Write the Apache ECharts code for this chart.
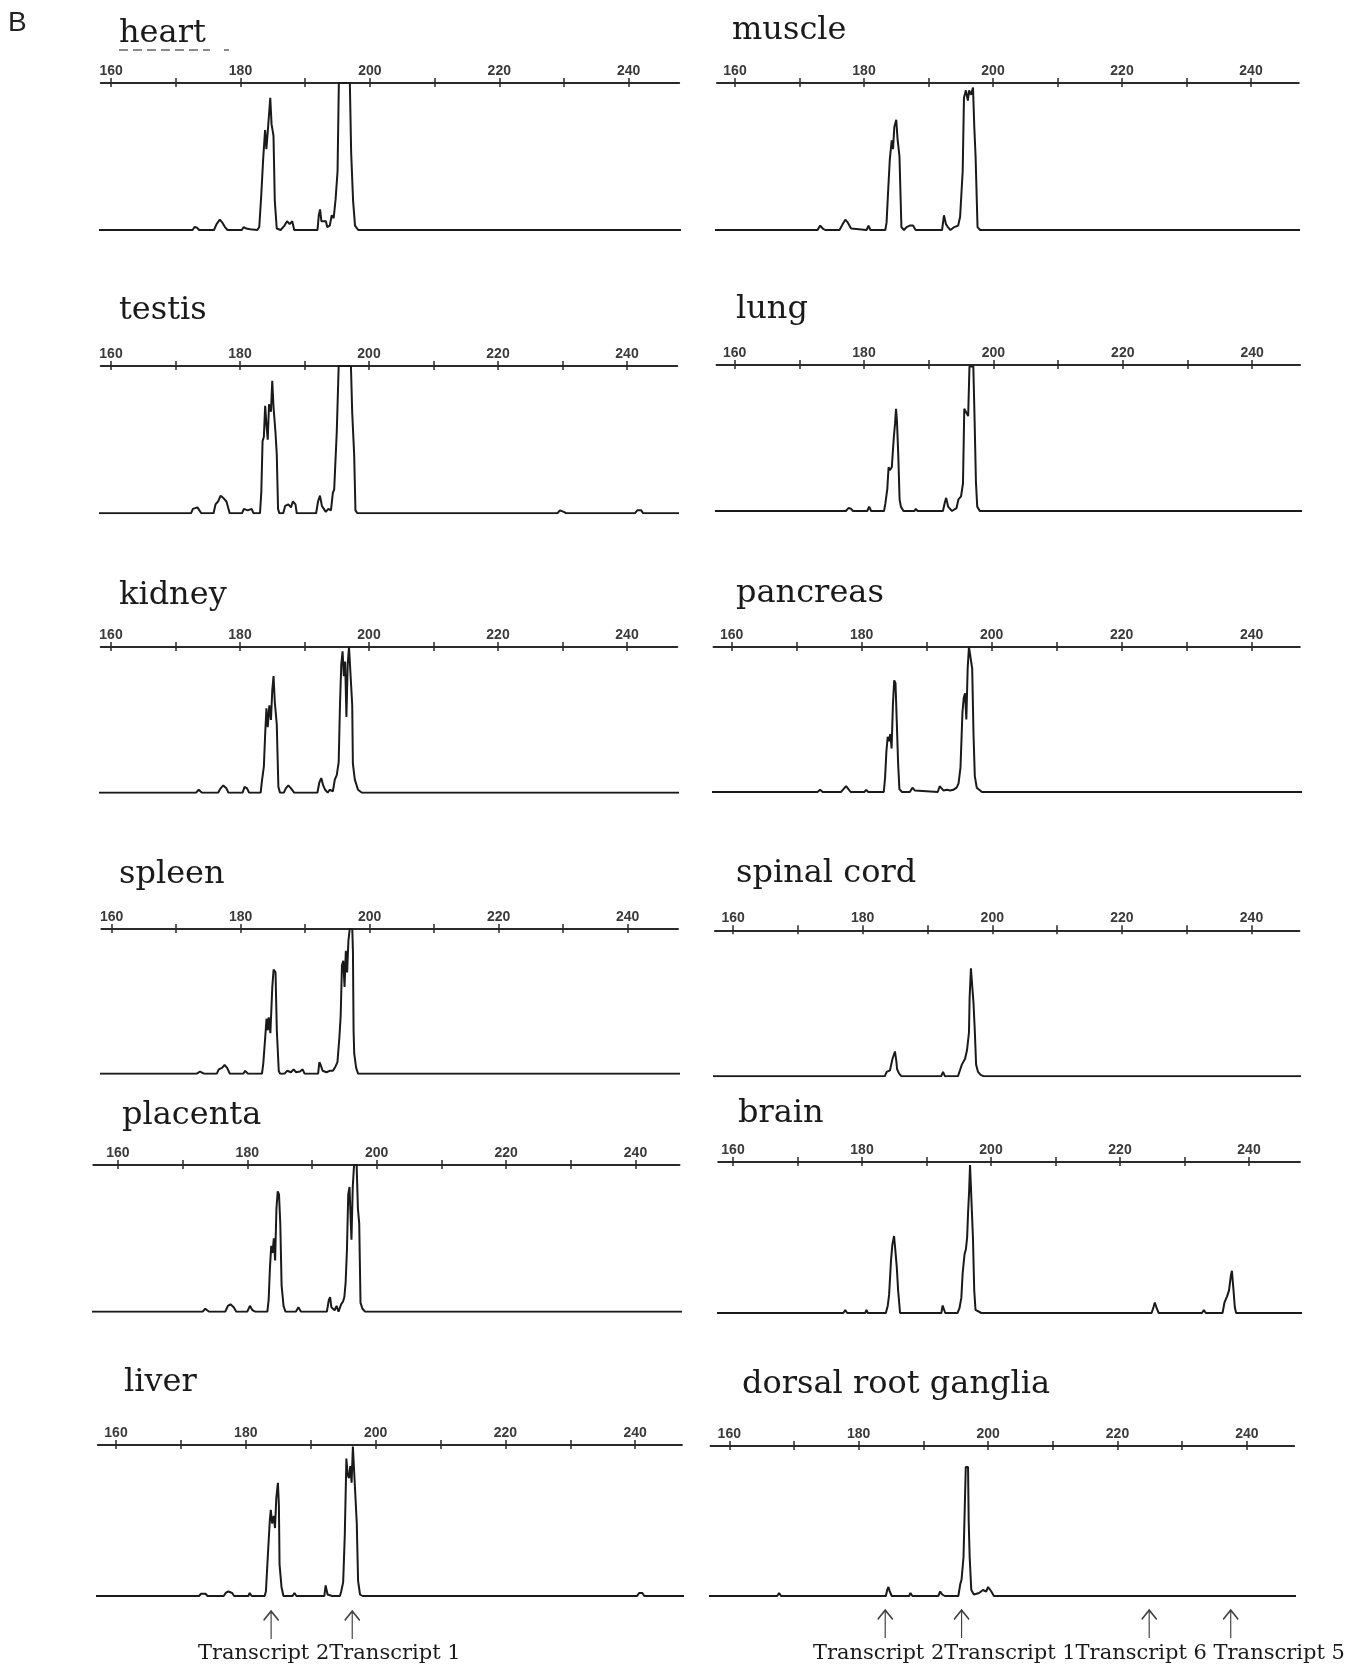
<!DOCTYPE html>
<html><head><meta charset="utf-8">
<script src="https://cdn.jsdelivr.net/npm/echarts@6/dist/echarts.min.js"></script>
<style>html,body{margin:0;padding:0;background:#fff}#c{width:1362px;height:1668px}</style>
</head><body><div id="c"></div>
<script>
// ---------- DATA ----------
const tickValues = [160,170,180,190,200,210,220,230,240];
const labelValues = [160,180,200,220,240];
const panelNames = ['heart','muscle','testis','lung','kidney','pancreas','spleen','spinal cord','placenta','brain','liver','dorsal root ganglia'];

// fragment size (bp) vs relative signal (% of full scale)
const heart = [[150,0],[172.6,0],[172.9,2],[173.3,1.5],[173.6,0],[175.9,0],[176.3,4],[176.8,7],[177.2,5],[177.6,2],[178,0],
 [180.2,0],[180.5,2],[180.9,1],[181.5,0.5],[182.6,0],[182.9,2],[183.2,23],[183.5,48],[183.8,68],[184.0,55],[184.3,72],[184.6,90],[184.8,72],[185.1,64],[185.3,20],[185.6,1],[186.2,0],
 [186.8,3],[187.2,6],[187.6,4],[188,6],[188.3,0],[191.9,0],[192.1,10],[192.3,14],[192.5,6],[192.8,5],[193.2,6],[193.4,2],[193.8,3],[194.1,10],[194.4,8],[194.7,21],[195.0,40],
 [195.2,100],[195.6,100],[196.0,100],[196.5,100],[196.9,100],[197.1,53],[197.4,20],[197.7,3],[198.2,0],[250,0]];
const muscle = [[150,0],[172.8,0],[173.2,3],[173.6,1],[174,0],[176.2,0],[176.7,4],[177.1,7],[177.5,5],[178,1],[178.3,0],[180.4,0],[180.7,3],[181,0],
 [183.3,0],[183.5,5],[183.7,23],[184.0,48],[184.3,61],[184.5,55],[184.7,70],[185.0,75],[185.2,62],[185.5,50],[185.8,2],[186.2,0],
 [186.6,2],[187.1,3],[187.6,3],[188,0],[192.1,0],[192.4,10],[192.7,4],[193.0,2],[193.4,0],[194.0,2],[194.3,3],[194.6,3],[194.9,9],[195.3,40],[195.5,90],[195.8,95],[196.1,88],[196.3,95],[196.6,92],[196.9,97],[197.1,70],[197.3,50],[197.6,2],[198,0],[250,0]];
const testis = [[150,0],[172.4,0],[172.7,3],[173.4,4],[174,0],[175.9,0],[176.2,6],[176.6,8],[177.0,12],[177.5,10],[177.9,8],[178.4,0],[180.3,0],[180.6,3],[181.2,2],[181.8,3],[182.1,0],
 [183.1,0],[183.3,14],[183.5,49],[183.7,52],[183.9,73],[184.1,60],[184.3,50],[184.5,74],[184.8,69],[185.0,90],[185.2,72],[185.5,55],[185.7,40],[185.9,3],[186.1,0],
 [186.7,0],[187.0,5],[187.5,6],[187.9,4],[188.2,8],[188.6,6],[188.8,0],[191.8,0],[192.1,8],[192.4,12],[192.7,5],[193.0,3],[193.3,1],[193.7,3],[194.1,2],[194.4,14],[194.6,16],[195.0,55],
 [195.3,100],[195.7,100],[196.2,100],[196.7,100],[197.2,100],[197.4,68],[197.7,40],[197.9,2],[198.2,0],[229.2,0],[229.6,2],[230.2,1],[230.6,0],[241.2,0],[241.6,2],[242.2,2],[242.5,0],[250,0]];
const lung = [[150,0],[177.2,0],[177.6,2],[178.0,1.5],[178.3,0],[180.5,0],[180.8,3],[181.1,0],
 [183.1,0],[183.3,5],[183.6,15],[183.8,30],[184.0,28],[184.3,30],[184.6,50],[184.8,60],[184.95,70],[185.1,61],[185.3,38],[185.5,8],[185.7,3],[186.1,0],
 [187.8,0],[188.0,1.5],[188.3,0],[192.2,0],[192.5,6],[192.7,9],[193.0,3],[193.3,1.5],[193.6,0],[194.3,2],[194.6,8],[195.0,10],[195.3,19],[195.5,70],[195.8,71],[196.1,65],[196.3,99],[196.6,100],[196.9,99],[197.1,61],[197.3,20],[197.5,3],[197.9,0],[250,0]];
const kidney = [[150,0],[173.2,0],[173.6,2],[174.1,0],[176.6,0],[177.0,3],[177.4,5],[177.9,3],[178.2,0],[180.4,0],[180.7,4],[181.1,3],[181.4,0],
 [183.2,0],[183.4,8],[183.7,18],[183.9,40],[184.1,58],[184.3,45],[184.55,60],[184.8,50],[185.0,70],[185.2,80],[185.4,62],[185.7,47],[185.95,4],[186.2,0],
 [186.8,0],[187.1,3],[187.5,5],[187.9,3],[188.4,0],[192.0,0],[192.3,7],[192.6,10],[192.9,5],[193.2,2],[193.6,0],[193.9,2],[194.4,1],[194.7,9],[195.0,12],[195.3,21],[195.5,60],[195.7,88],[195.9,97],[196.1,80],[196.3,90],[196.5,52],[196.7,88],[196.9,100],[197.2,100],[197.4,60],[197.5,20],[197.8,9],[198.3,2],[198.9,0],[250,0]];
const pancreas = [[150,0],[173.2,0],[173.6,1.5],[174.0,0],[176.8,0],[177.2,2],[177.6,4],[177.9,3],[178.3,0],[180.4,0],[180.7,1.5],[181.0,0],
 [183.4,0],[183.6,10],[183.8,28],[184.0,38],[184.2,35],[184.4,40],[184.6,30],[184.8,60],[185.0,77],[185.2,75],[185.4,48],[185.6,20],[185.8,2],[186.2,0],
 [187.4,0],[187.8,3],[188.2,1],[188.5,0],[191.7,0],[192.0,4],[192.3,5],[192.6,1],[193.1,1.5],[193.6,1],[194.1,1.5],[194.6,3],[194.9,6],[195.2,17],[195.5,55],[195.7,65],[195.9,68],[196.1,50],[196.3,85],[196.5,100],[196.8,100],[197.0,85],[197.2,40],[197.4,11],[197.7,3],[198.5,0],[241.0,0],[241.3,1.2],[241.7,0],[250,0]];
const spleen = [[150,0],[173.2,0],[173.7,1.5],[174.3,0],[176.3,0],[176.6,3],[177.1,4],[177.5,6],[177.9,4],[178.3,0],[180.4,0],[180.7,2],[181.1,0],
 [183.3,0],[183.5,7],[183.8,25],[184.0,38],[184.2,30],[184.35,39],[184.6,28],[184.9,60],[185.1,72],[185.4,70],[185.6,30],[185.9,2],[186.1,0],
 [186.8,0],[187.2,2],[187.8,1],[188.2,3],[188.6,1],[189.2,1.5],[189.6,3],[189.9,0],[192.0,0],[192.2,8],[192.4,6],[192.7,2],[193.3,1],[193.8,2],[194.3,2],[194.7,5],[195.0,8],[195.3,25],[195.5,40],[195.7,75],[195.9,78],[196.1,60],[196.3,85],[196.5,70],[196.7,92],[196.9,100],[197.3,100],[197.4,85],[197.5,30],[197.6,14],[197.9,4],[198.2,0],[250,0]];
const spinalCord = [[150,0],[183.4,0],[183.7,3],[184.2,4],[184.6,12],[184.98,17],[185.2,10],[185.3,5],[185.6,2],[186.0,0],[192.1,0],[192.4,3],[192.7,0],
 [194.7,0],[195.0,4],[195.3,8],[195.8,12],[196.1,18],[196.4,30],[196.5,54],[196.7,74],[197.0,74],[197.1,50],[197.3,31],[197.5,8],[197.8,3],[198.2,1],[198.7,0],[250,0]];
const placenta = [[150,0],[173.1,0],[173.5,2],[174.1,0],[176.6,0],[177.0,4],[177.4,5],[177.9,3],[178.3,0],[180.0,0],[180.4,4],[180.8,1],[181.2,0],
 [183.1,0],[183.3,8],[183.5,30],[183.7,45],[183.9,40],[184.1,50],[184.3,35],[184.5,70],[184.7,82],[184.9,80],[185.1,60],[185.3,18],[185.6,4],[185.9,0],
 [187.5,0],[187.9,3],[188.3,0],[192.3,0],[192.6,8],[192.8,10],[193.0,3],[193.5,1],[193.8,4],[194.1,0],[194.5,5],[194.8,7],[195.0,10],[195.2,20],[195.4,42],[195.6,80],[195.8,85],[196.0,60],[196.1,49],[196.3,85],[196.5,100],[196.9,100],[197.1,70],[197.3,60],[197.5,6],[197.8,2],[198.2,0],[250,0]];
const brain = [[150,0],[177.1,0],[177.4,2],[177.7,0],[180.5,0],[180.7,2],[180.9,0],
 [183.7,0],[184.0,5],[184.2,12],[184.5,35],[184.7,45],[184.97,51],[185.2,40],[185.4,30],[185.6,15],[185.9,0],
 [192.3,0],[192.5,5],[192.7,6],[192.9,0],[194.8,0],[195.1,3],[195.4,10],[195.6,26],[195.9,39],[196.1,42],[196.3,50],[196.45,67],[196.6,80],[196.75,98],[197.0,97],[197.2,50],[197.4,15],[197.6,2],[198.5,0],
 [224.9,0],[225.2,4],[225.4,7],[225.7,3],[226.0,0],[232.7,0],[233.0,2],[233.3,0],[235.9,0],[236.2,7],[236.6,11],[236.9,15],[237.2,25],[237.35,28],[237.6,15],[237.8,4],[238.0,0],[250,0]];
const liver = [[150,0],[172.8,0],[173.1,1.5],[173.8,1.5],[174.1,0],[176.6,0],[176.9,2],[177.3,3],[177.9,2],[178.2,0],[180.4,0],[180.6,2],[180.9,0],
 [182.9,0],[183.1,3],[183.4,27],[183.7,50],[183.85,57],[184.05,48],[184.3,53],[184.5,45],[184.7,65],[184.95,75],[185.1,60],[185.2,21],[185.5,6],[185.8,0],
 [187.2,0],[187.5,2],[187.8,0],[192.1,0],[192.3,7],[192.5,7],[192.6,1],[193.3,0],[194.5,0],[194.7,3],[195.0,9],[195.25,40],[195.5,91],[195.7,80],[195.9,78],[196.1,86],[196.3,75],[196.5,99],[196.8,99],[197.1,48],[197.3,10],[197.6,1],[198,0],
 [229.4,0],[229.7,1],[230.0,0],[240.3,0],[240.6,2],[241.1,2],[241.4,0],[250,0]];
const dorsalRootGanglia = [[150,0],[167.4,0],[167.7,2],[168.0,0],[184.2,0],[184.4,4],[184.6,6],[184.8,3],[185.1,0],[187.8,0],[188.0,2],[188.3,0],
 [192.3,0],[192.6,3],[192.9,1],[193.3,0],[195.4,0],[195.7,8],[195.9,11],[196.2,26],[196.4,60],[196.55,86],[196.9,86],[197.0,50],[197.15,26],[197.4,4],[197.8,1],[198.6,2],[199.2,4],[199.7,3],[200.0,6],[200.2,7],[200.5,3],[200.9,0],[250,0]];

const traces = [heart, muscle, testis, lung, kidney, pancreas, spleen, spinalCord, placenta, brain, liver, dorsalRootGanglia];

const transcriptsLeft = [183.9, 196.4];
const transcriptsRight = [184.1, 195.9, 224.9, 237.5];
const transcriptTextLeft = 'Transcript 2Transcript 1';
const transcriptTextRight = 'Transcript 2Transcript 1Transcript 6 Transcript 5';

// ---------- LAYOUT (pixels) ----------
const layout = [
 {x180:240.5,ppu:6.47,top:83,base:230,min:158.4,max:247.8,tx:119,ty:41},
 {x180:864,ppu:6.45,top:83,base:230,min:157.2,max:247.4,tx:732,ty:38},
 {x180:240,ppu:6.45,top:366,base:513.3,min:158.4,max:247.8,tx:119,ty:318},
 {x180:864,ppu:6.47,top:365,base:511,min:157.2,max:247.4,tx:736,ty:317},
 {x180:240,ppu:6.45,top:647,base:792.7,min:158.4,max:247.8,tx:119,ty:603},
 {x180:861.7,ppu:6.5,top:647,base:792,min:157.2,max:247.4,tx:736,ty:601},
 {x180:240.7,ppu:6.45,top:929,base:1073.7,min:158.4,max:247.8,tx:119,ty:882},
 {x180:862.7,ppu:6.48,top:930.3,base:1076.3,min:157.2,max:247.4,tx:736,ty:881},
 {x180:247.3,ppu:6.47,top:1165,base:1311.7,min:156.2,max:246.8,tx:122,ty:1123},
 {x180:862,ppu:6.45,top:1162,base:1313,min:157.7,max:247.9,tx:738,ty:1121},
 {x180:245.8,ppu:6.49,top:1445,base:1596,min:157.2,max:247.2,tx:124,ty:1390},
 {x180:858.7,ppu:6.47,top:1446,base:1596,min:157.1,max:247.3,tx:742,ty:1392}
];

const INK = '#1a1a1a';
const grid = [], xAxis = [], yAxis = [], series = [], graphic = [];

layout.forEach((L, i) => {
  grid.push({left: L.x180 - (180 - L.min) * L.ppu, width: (L.max - L.min) * L.ppu, top: L.top, height: L.base - L.top, containLabel:false});
  xAxis.push({gridIndex:i, type:'value', position:'top', min:L.min, max:L.max,
    axisLine:{show:true, onZero:false, lineStyle:{color:'#2a2a2a', width:2}},
    axisTick:{show:true, customValues:tickValues, length:5, lineStyle:{color:'#2a2a2a', width:1.5}},
    axisLabel:{show:true, customValues:labelValues, margin:5, fontFamily:'Liberation Sans', fontWeight:'bold', fontSize:14, color:'#3a3a3a'},
    splitLine:{show:false}});
  xAxis.push({gridIndex:i, type:'value', position:'top', min:L.min, max:L.max,
    axisLine:{show:false, onZero:false},
    axisTick:{show:true, inside:true, customValues:tickValues, length:4, lineStyle:{color:'#2a2a2a', width:1.5}},
    axisLabel:{show:false}, splitLine:{show:false}});
  yAxis.push({gridIndex:i, type:'value', min:0, max:100, show:false});
  series.push({type:'line', xAxisIndex:2*i, yAxisIndex:i, data:traces[i], symbol:'none', showSymbol:false,
    lineStyle:{color:INK, width:2}, silent:true, animation:false});
  graphic.push({type:'text', left:L.tx, top:L.ty - 23, style:{text:panelNames[i], font:'32px "DejaVu Serif"', fill:'#1a1a1a'}});
});

const arrowPath = 'path://M0,10 L8,0 L16,10 M8,0 L8,30';
function arrows(idx, xs, offset) {
  return {type:'scatter', xAxisIndex:2*idx, yAxisIndex:idx, clip:false, silent:true, animation:false,
    data: xs.map(v => [v, 0]), symbol: arrowPath, symbolSize:[15, 28], symbolOffset:[0, offset],
    itemStyle:{color:'rgba(0,0,0,0)', borderColor:'#111', borderWidth:1.6}};
}
series.push(arrows(10, transcriptsLeft, 29));
series.push(arrows(11, transcriptsRight, 28));

graphic.push({type:'text', left:8, top:9, style:{text:'B', font:'28px "Liberation Sans"', fill:'#222'}});
graphic.push({type:'line', shape:{x1:119, y1:50, x2:210, y2:50}, style:{stroke:'#666', lineWidth:1.5, lineDash:[9,5]}});
graphic.push({type:'line', shape:{x1:224, y1:50, x2:229, y2:50}, style:{stroke:'#666', lineWidth:1.5}});
graphic.push({type:'text', left:198, top:1643, style:{text:transcriptTextLeft, font:'21px "DejaVu Serif"', fill:'#1a1a1a'}});
graphic.push({type:'text', left:813, top:1643, style:{text:transcriptTextRight, font:'21px "DejaVu Serif"', fill:'#1a1a1a'}});

const chart = echarts.init(document.getElementById('c'), null, {renderer:'canvas'});
chart.setOption({animation:false, backgroundColor:'#fff', grid, xAxis, yAxis, series, graphic});
</script></body></html>
